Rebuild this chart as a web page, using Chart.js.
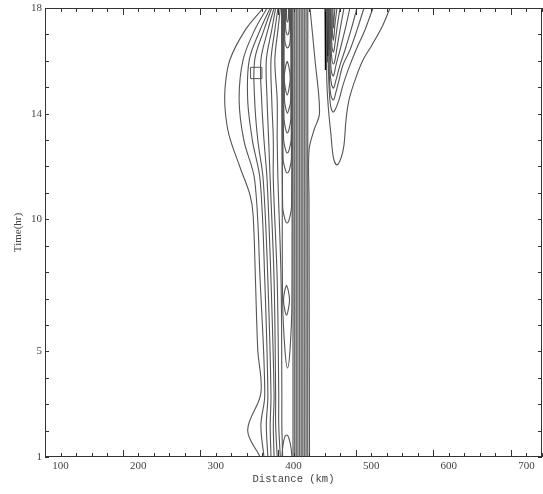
<!DOCTYPE html>
<html>
<head>
<meta charset="utf-8">
<script src="https://cdn.jsdelivr.net/npm/chart.js@4.4.1/dist/chart.umd.min.js"></script>
<style>
  html, body { margin: 0; padding: 0; background: #fff; }
  #wrap { width: 543px; height: 494px; }
  canvas { display: block; }
</style>
</head>
<body>
<div id="wrap"><canvas id="myChart" width="543" height="494"></canvas></div>
<script>
// axis ranges and tick labels
const distMin = 80, distMax = 720;
const timeMin = 1, timeMax = 18;
const xTickLabels = [100, 200, 300, 400, 500, 600, 700];
const yTickLabels = [1, 5, 10, 14, 18];

// contours west of the band, each point [km, hr]
const westLines = [
    [[361,18],[338,17.17],[318,16.03],[312,15.01],[312,14.14],[317,13.19],[331,11.98],[344,10.92],[348,10.16],[351,7.7],[354,5.05],[358,3.42],[341,2.02],[357,1]],
    [[366,18],[350,17.17],[335,16.03],[330,14.52],[336,13.0],[350,11.49],[357,7.7],[363,3.35],[358,2.21],[362,1]],
    [[370,18],[357,17.17],[343,16.03],[341,14.52],[347,13.0],[357,11.49],[363,7.7],[367,3.35],[365,2.21],[367,1]],
    [[372,18],[362,17.17],[350,16.03],[350,14.52],[354,13.0],[361,11.49],[367,7.7],[371,3.35],[370,2.21],[371,1]],
    [[375,18],[367,17.17],[358,16.03],[359,14.52],[362,13.0],[366,11.49],[371,7.7],[375,3.35],[374,2.21],[375,1]],
    [[377,18],[372,17.17],[365,16.03],[366,14.52],[368,13.0],[370,11.49],[375,7.7],[377,3.35],[377,2.21],[379,1]],
    [[380,18],[376,17.17],[371,16.03],[372,14.52],[374,13.0],[374,11.49],[379,7.7],[381,3.35],[381,2.21],[383,1]],
    [[383,18],[380,17.17],[376,16.03],[379,14.52],[379,13.0],[380,11.49],[384,7.7],[385,3.35],[385,2.21],[386,1]]
];

// loops hanging from the top edge, west side of the band
const westLoops = [
    [[384.5,18],[385.5,12.6],[386,6.9],[389,5.05],[392.3,4.37],[395.5,5.05],[398,6.9],[398.1,18]],
    [[385.2,18],[386,10.5],[389,10.0],[391.8,9.86],[394.5,10.0],[397.5,10.5],[397.8,18]],
    [[385.8,18],[386.6,12.3],[389.4,11.88],[392,11.75],[394.8,11.88],[397.3,12.3],[397.6,18]],
    [[386.5,18],[387.2,13.05],[389.8,12.63],[392,12.51],[394.4,12.63],[397,13.05],[397.3,18]],
    [[387.1,18],[387.8,13.8],[390.2,13.38],[392,13.27],[394,13.38],[396.6,13.8],[397,18]],
    [[387.8,18],[388.4,14.5],[390.6,14.13],[392.2,14.02],[393.8,14.13],[396.4,14.5],[396.8,18]],
    [[388.4,18],[388.8,16.8],[390.5,16.55],[392.3,16.49],[394.2,16.55],[395.8,16.8],[396.1,18]],
    [[389.7,18],[390,17.2],[391.2,17.02],[392.3,16.98],[393.5,17.02],[394.6,17.2],[394.8,18]],
    [[391,18],[391.2,17.6],[392.3,17.47],[393.4,17.6],[393.6,18]]
];

// closed ovals and the arch at the bottom edge
const westOvals = [
    [[391.9,15.99],[393.9,15.8],[395.8,15.35],[393.9,14.9],[391.9,14.71],[389.9,14.9],[388,15.35],[389.9,15.8],[391.9,15.99]],
    [[391,7.51],[393,7.34],[394.9,6.94],[393,6.54],[391,6.37],[389,6.54],[387.1,6.94],[389,7.34],[391,7.51]],
    [[385,1],[386.5,1.45],[389,1.78],[391.6,1.83],[394.2,1.7],[396.8,1.35],[398,1]]
];

// the dense band near 400 km
const bandKm = [399.4, 401.5, 403.6, 405.7, 407.8, 409.9, 412, 414.1, 416.2, 418.3];
const bandEdge = [[421.2,18],[427.7,16.03],[433.5,14.02],[426.4,13.38],[420,12.62],[420,10.73],[420.6,1]];

// dark core of the eastern cell
const coreLines = [
    [[441.2,18],[441.6,15.65]],
    [[442.5,18],[442.8,15.95]],
    [[443.8,18],[444,16.18]],
    [[445.1,18],[445.2,16.41]]
];

// eastern cell contours
const eastLoops = [
    [[524.3,18],[515.2,17.36],[501.1,16.6],[489.5,16.03],[479.2,15.27],[471.5,14.52],[467.6,13.76],[465,12.81],[461.2,12.32],[456,12.06],[451.5,12.32],[448.3,13.19],[445.1,14.14],[443.1,15.08],[442.5,16.41],[442.5,18]],
    [[502.4,18],[492,17.17],[480.5,16.41],[470.2,15.65],[463.7,15.08],[458.6,14.52],[454.1,14.18],[450.9,14.06],[447.6,14.33],[445.7,15.08],[444.4,16.41],[443.8,18]],
    [[490.8,18],[481.8,17.17],[472.7,16.41],[463.7,15.84],[458.6,15.27],[454.7,14.82],[451.5,14.52],[448.3,14.67],[446.4,15.27],[445.1,18]],
    [[481.8,18],[474.1,17.17],[466.3,16.41],[459.9,15.84],[454.7,15.27],[451.5,14.97],[448.9,15.12],[447,15.65],[446.4,18]],
    [[472.7,18],[466.3,17.17],[459.9,16.41],[454.7,15.84],[451.5,15.43],[448.9,15.58],[447.6,16.22],[447,18]],
    [[465,18],[459.9,17.17],[456,16.49],[453.4,16.03],[451.5,15.88],[449.6,16.03],[448.3,16.6],[447.6,18]],
    [[459.9,18],[456,17.24],[453.4,16.64],[451.5,16.33],[449.6,16.52],[448.9,17.17],[448.3,18]],
    [[456,18],[453.4,17.39],[451.5,16.79],[450.2,17.02],[449.6,18]],
    [[453.4,18],[452.1,17.55],[451.5,17.24],[450.9,17.55],[450.9,18]]
];

// boxed station mark
const stationMark = [[352, 15.54]];

function lineSet(points, color, width) {
    return {
        data: points.map(p => ({x: p[0], y: p[1]})),
        showLine: true,
        pointRadius: 0,
        borderColor: color,
        borderWidth: width,
        tension: 0.35,
        fill: false
    };
}

let datasets = [];
westLines.forEach(l => datasets.push(lineSet(l, '#555', 1.1)));
westLoops.forEach(l => datasets.push(lineSet(l, '#555', 1.1)));
westOvals.forEach(l => datasets.push(lineSet(l, '#555', 1.1)));
bandKm.forEach(k => datasets.push(lineSet([[k, timeMin], [k, timeMax]], '#707070', 1.4)));
datasets.push(lineSet(bandEdge, '#555', 1.1));
eastLoops.forEach(l => datasets.push(lineSet(l, '#555', 1.1)));
coreLines.forEach(l => datasets.push(lineSet(l, '#000', 2)));
datasets.push({
    data: stationMark.map(p => ({x: p[0], y: p[1]})),
    pointStyle: 'rect',
    pointRadius: 8,
    borderColor: '#555',
    borderWidth: 1,
    backgroundColor: '#fff'
});
datasets.push({
    data: stationMark.map(p => ({x: p[0], y: p[1]})),
    pointStyle: 'circle',
    pointRadius: 1.5,
    borderColor: '#555',
    borderWidth: 0,
    backgroundColor: '#555'
});

// inward ticks on all four sides plus the frame
const frameTicks = {
    id: 'frameTicks',
    afterDraw(chart) {
        const ctx = chart.ctx, a = chart.chartArea;
        const x = chart.scales.x, y = chart.scales.y;
        ctx.save();
        ctx.strokeStyle = '#333';
        ctx.lineWidth = 1;
        ctx.strokeRect(a.left + 0.5, a.top + 0.5, a.right - a.left - 1, a.bottom - a.top - 1);
        ctx.beginPath();
        x.ticks.forEach(t => {
            let px = Math.round(x.getPixelForValue(t.value)) + 0.5;
            let len = (t.value - distMin) % 100 === 0 ? 7 : 4;
            ctx.moveTo(px, a.bottom); ctx.lineTo(px, a.bottom - len);
            ctx.moveTo(px, a.top); ctx.lineTo(px, a.top + len);
        });
        y.ticks.forEach(t => {
            let py = Math.round(y.getPixelForValue(t.value)) + 0.5;
            ctx.moveTo(a.left, py); ctx.lineTo(a.left + 4, py);
            ctx.moveTo(a.right, py); ctx.lineTo(a.right - 4, py);
        });
        ctx.stroke();
        ctx.restore();
    }
};

const ctx = document.getElementById('myChart').getContext('2d');
const chart = new Chart(ctx, {
    type: 'scatter',
    data: { datasets: datasets },
    options: {
        responsive: false,
        animation: false,
        devicePixelRatio: 1,
        layout: { autoPadding: false, padding: { top: 8, right: 1, left: 0, bottom: 0 } },
        plugins: { legend: { display: false }, tooltip: { enabled: false } },
        scales: {
            x: {
                type: 'linear',
                min: distMin,
                max: distMax,
                afterFit: s => { s.height = 37; s.paddingLeft = 0; s.paddingRight = 0; },
                grid: { display: false, drawTicks: false },
                border: { display: false },
                ticks: {
                    stepSize: 20,
                    autoSkip: false,
                    maxRotation: 0,
                    padding: 3,
                    color: '#444',
                    font: { family: 'Liberation Serif', size: 11 },
                    callback: v => xTickLabels.includes(v) ? String(v) : ''
                },
                title: {
                    display: true,
                    text: 'Distance (km)',
                    color: '#444',
                    font: { family: 'Liberation Mono', size: 10.5 },
                    padding: { top: 0, bottom: 8 }
                }
            },
            y: {
                type: 'linear',
                min: timeMin,
                max: timeMax,
                afterFit: s => { s.width = 45; s.paddingTop = 0; s.paddingBottom = 0; },
                grid: { display: false, drawTicks: false },
                border: { display: false },
                ticks: {
                    stepSize: 1,
                    autoSkip: false,
                    padding: 3,
                    color: '#444',
                    font: { family: 'Liberation Serif', size: 11 },
                    callback: v => yTickLabels.includes(v) ? String(v) : ''
                },
                title: {
                    display: true,
                    text: 'Time(hr)',
                    color: '#444',
                    font: { family: 'Liberation Serif', size: 11 },
                    padding: { top: 12, bottom: 0 }
                }
            }
        }
    },
    plugins: [frameTicks]
});
</script>
</body>
</html>
